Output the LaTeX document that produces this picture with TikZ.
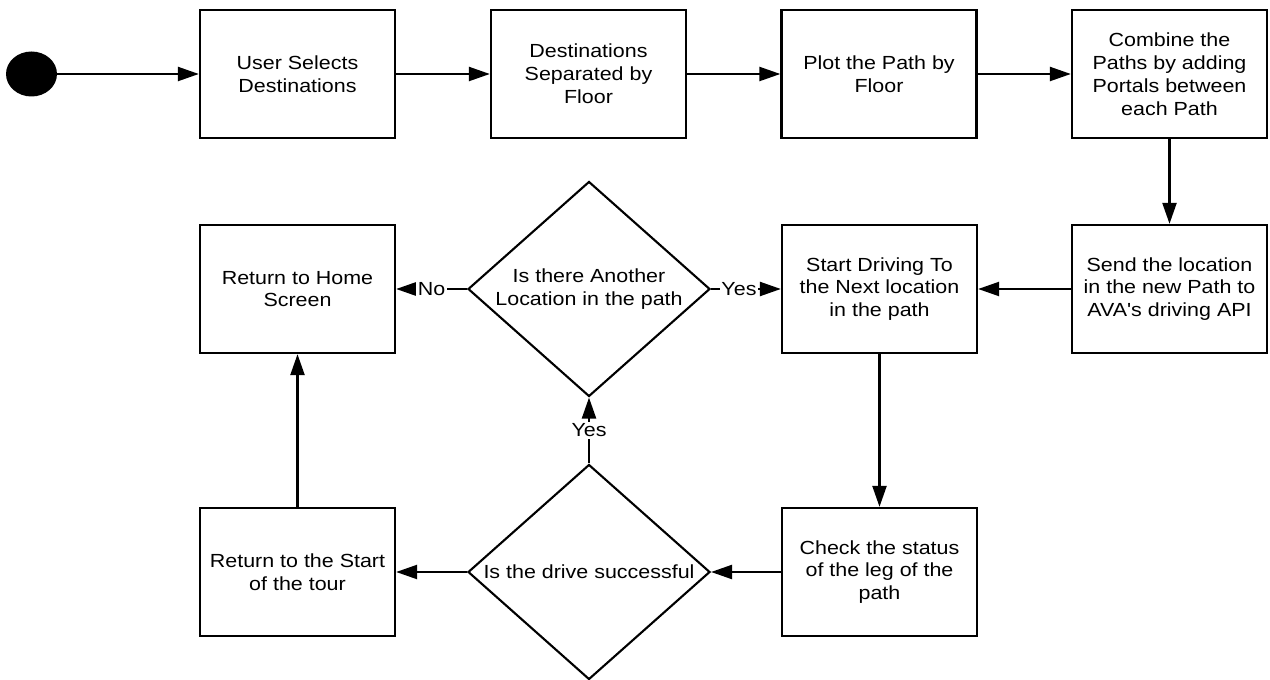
\documentclass[tikz,border=0pt]{standalone}
\usepackage{fontspec}
\setmainfont{Liberation Sans}[FakeStretch=1.13,Ligatures=TeXOff]
\usetikzlibrary{arrows.meta,shapes.geometric}

\begin{document}
\begin{tikzpicture}[x=1cm,y=1cm,
  every node/.style={font=\fontsize{10.8}{13}\selectfont},
  stepbox/.style={draw,line width=1.3pt,minimum width=3.9cm,minimum height=2.56cm,align=center,inner sep=2pt},
  decision/.style={draw,diamond,line width=1.2pt,minimum width=4.84cm,minimum height=4.3cm,aspect=1.13,inner sep=0pt,align=center},
  link/.style={line width=1.3pt,-{Triangle[length=12pt,width=8pt]}},
  flowlabel/.style={fill=white,inner sep=1pt}]
\useasboundingbox (0,0) rectangle (25.4,-13.6);
% top row
\node[ellipse,fill=black,minimum width=1.02cm,minimum height=0.9cm,inner sep=0pt] (start) at (0.63,-1.48) {};
\node[stepbox] (select) at (5.95,-1.48) {User Selects\\Destinations};
\node[stepbox] (split) at (11.77,-1.48) {Destinations\\Separated by\\Floor};
\node[stepbox] (plot) at (17.58,-1.48) {Plot the Path by\\Floor};
\node[stepbox] (combine) at (23.39,-1.48) {Combine the\\Paths by adding\\Portals between\\each Path};
% middle row
\node[stepbox] (send) at (23.39,-5.78) {Send the location\\in the new Path to\\AVA's driving API};
\node[stepbox] (drive) at (17.59,-5.78) {Start Driving To\\the Next location\\in the path};
\node[decision] (more) at (11.78,-5.78) {Is there Another\\Location in the path};
\node[stepbox] (home) at (5.95,-5.78) {Return to Home\\Screen};
% bottom row
\node[stepbox] (check) at (17.59,-11.44) {Check the status\\of the leg of the\\path};
\node[decision] (success) at (11.78,-11.44) {Is the drive successful};
\node[stepbox] (restart) at (5.95,-11.44) {Return to the Start\\of the tour};
% connectors
\draw[link] (start) -- (select);
\draw[link] (select) -- (split);
\draw[link] (split) -- (plot);
\draw[link] (plot) -- (combine);
\draw[link] (combine) -- (send);
\draw[link] (send) -- (drive);
\draw[link] (drive) -- (check);
\draw[link] (check) -- (success);
\draw[link] (success) -- (restart);
\draw[link] (restart) -- (home);
\draw[link] (success) -- node[flowlabel] {Yes} (more);
\draw[link] (more) -- node[flowlabel] {No} (home);
\draw[link] (more) -- node[flowlabel,pos=0.4] {Yes} (drive);
\end{tikzpicture}
\end{document}
